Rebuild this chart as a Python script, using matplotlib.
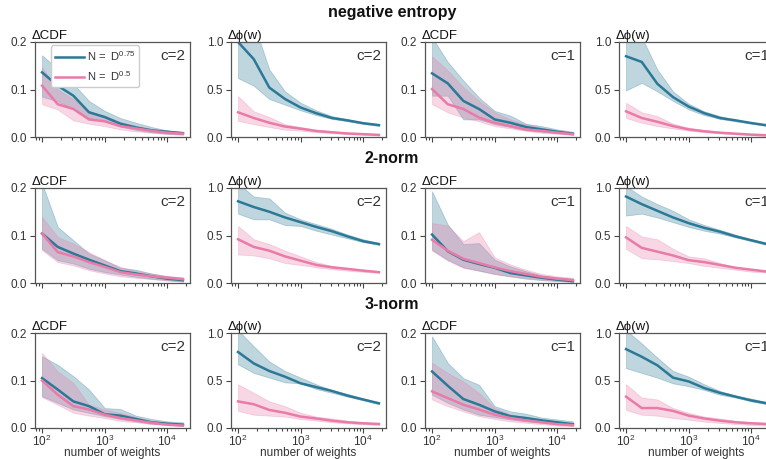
import matplotlib
matplotlib.use("Agg")
import matplotlib.pyplot as plt
import numpy as np

plt.rcParams['font.family'] = ['Liberation Sans', 'DejaVu Sans']
plt.rcParams['mathtext.fontset'] = 'custom'
plt.rcParams['mathtext.rm'] = 'Liberation Sans'
plt.rcParams['mathtext.it'] = 'Liberation Sans:italic'

# number of weights (quarter decades from 1e2)
n_weights = [100, 178, 316, 562, 1000, 1778, 3162, 5623, 10000, 17783]

row_titles = ['negative entropy', '2-norm', '3-norm']
col_labels = ['ΔCDF', 'Δϕ(w)', 'ΔCDF', 'Δϕ(w)']
col_c = ['c=2', 'c=2', 'c=1', 'c=1']
series_labels = ['N =  D$^{0.75}$', 'N =  D$^{0.5}$']

# each series: [mean, lower, upper]
# --- negative entropy
ne_cdf2_blue = [[0.136, 0.108, 0.087, 0.052, 0.042, 0.028, 0.020, 0.014, 0.011, 0.008],
                [0.085, 0.075, 0.060, 0.040, 0.033, 0.022, 0.015, 0.010, 0.007, 0.005],
                [0.172, 0.143, 0.112, 0.076, 0.055, 0.040, 0.030, 0.021, 0.014, 0.011]]
ne_cdf2_pink = [[0.108, 0.069, 0.059, 0.037, 0.033, 0.023, 0.018, 0.013, 0.009, 0.007],
                [0.069, 0.058, 0.035, 0.028, 0.023, 0.016, 0.012, 0.009, 0.006, 0.005],
                [0.147, 0.100, 0.080, 0.055, 0.045, 0.032, 0.024, 0.017, 0.012, 0.009]]
ne_phi2_blue = [[1.00, 0.82, 0.52, 0.40, 0.31, 0.25, 0.20, 0.175, 0.145, 0.125],
                [0.62, 0.54, 0.40, 0.34, 0.28, 0.23, 0.19, 0.165, 0.137, 0.116],
                [1.30, 1.20, 0.71, 0.48, 0.36, 0.28, 0.22, 0.185, 0.155, 0.135]]
ne_phi2_pink = [[0.26, 0.20, 0.15, 0.11, 0.088, 0.063, 0.05, 0.037, 0.03, 0.022],
                [0.17, 0.135, 0.105, 0.077, 0.067, 0.05, 0.04, 0.03, 0.022, 0.016],
                [0.43, 0.27, 0.21, 0.135, 0.105, 0.077, 0.06, 0.045, 0.035, 0.027]]
ne_cdf1_blue = [[0.134, 0.113, 0.076, 0.059, 0.037, 0.030, 0.021, 0.016, 0.011, 0.007],
                [0.087, 0.087, 0.037, 0.037, 0.027, 0.021, 0.014, 0.011, 0.008, 0.005],
                [0.210, 0.158, 0.119, 0.083, 0.055, 0.045, 0.028, 0.023, 0.016, 0.011]]
ne_cdf1_pink = [[0.101, 0.069, 0.059, 0.041, 0.030, 0.023, 0.016, 0.013, 0.009, 0.006],
                [0.069, 0.052, 0.041, 0.033, 0.023, 0.018, 0.013, 0.009, 0.007, 0.004],
                [0.170, 0.140, 0.105, 0.076, 0.052, 0.037, 0.027, 0.020, 0.013, 0.008]]
ne_phi1_blue = [[0.85, 0.79, 0.56, 0.42, 0.32, 0.25, 0.20, 0.175, 0.147, 0.123],
                [0.49, 0.57, 0.48, 0.38, 0.29, 0.23, 0.19, 0.165, 0.14, 0.115],
                [1.15, 1.05, 0.71, 0.48, 0.35, 0.27, 0.22, 0.18, 0.155, 0.13]]
ne_phi1_pink = [[0.27, 0.20, 0.16, 0.115, 0.08, 0.06, 0.045, 0.035, 0.025, 0.018],
                [0.20, 0.15, 0.115, 0.09, 0.067, 0.05, 0.038, 0.028, 0.018, 0.014],
                [0.36, 0.26, 0.22, 0.14, 0.098, 0.074, 0.056, 0.042, 0.032, 0.025]]
# --- 2-norm
n2_cdf2_blue = [[0.104, 0.076, 0.062, 0.049, 0.037, 0.025, 0.020, 0.014, 0.009, 0.006],
                [0.072, 0.048, 0.041, 0.030, 0.023, 0.018, 0.013, 0.009, 0.006, 0.003],
                [0.210, 0.118, 0.090, 0.062, 0.048, 0.032, 0.028, 0.020, 0.014, 0.011]]
n2_cdf2_pink = [[0.104, 0.065, 0.056, 0.044, 0.034, 0.023, 0.018, 0.014, 0.011, 0.008],
                [0.069, 0.044, 0.037, 0.027, 0.020, 0.014, 0.011, 0.008, 0.005, 0.003],
                [0.139, 0.097, 0.083, 0.065, 0.048, 0.034, 0.025, 0.020, 0.015, 0.012]]
n2_phi2_blue = [[0.86, 0.80, 0.75, 0.69, 0.64, 0.59, 0.545, 0.49, 0.44, 0.41],
                [0.73, 0.67, 0.67, 0.61, 0.60, 0.55, 0.51, 0.47, 0.43, 0.40],
                [1.05, 0.91, 0.89, 0.74, 0.67, 0.62, 0.57, 0.51, 0.46, 0.42]]
n2_phi2_pink = [[0.46, 0.38, 0.34, 0.28, 0.235, 0.19, 0.165, 0.148, 0.13, 0.114],
                [0.30, 0.29, 0.26, 0.21, 0.19, 0.165, 0.145, 0.13, 0.117, 0.107],
                [0.60, 0.46, 0.41, 0.34, 0.28, 0.22, 0.18, 0.16, 0.14, 0.124]]
n2_cdf1_blue = [[0.102, 0.067, 0.049, 0.040, 0.032, 0.021, 0.016, 0.011, 0.007, 0.004],
                [0.070, 0.049, 0.033, 0.026, 0.019, 0.014, 0.009, 0.006, 0.004, 0.002],
                [0.193, 0.123, 0.082, 0.084, 0.049, 0.035, 0.025, 0.016, 0.012, 0.009]]
n2_cdf1_pink = [[0.091, 0.068, 0.051, 0.042, 0.033, 0.025, 0.019, 0.013, 0.009, 0.006],
                [0.068, 0.047, 0.032, 0.026, 0.019, 0.014, 0.011, 0.007, 0.005, 0.003],
                [0.126, 0.121, 0.088, 0.107, 0.054, 0.039, 0.028, 0.019, 0.014, 0.011]]
n2_phi1_blue = [[0.91, 0.83, 0.76, 0.69, 0.63, 0.58, 0.54, 0.49, 0.45, 0.41],
                [0.71, 0.73, 0.69, 0.64, 0.59, 0.55, 0.52, 0.48, 0.44, 0.40],
                [1.02, 0.91, 0.83, 0.76, 0.67, 0.61, 0.56, 0.51, 0.46, 0.42]]
n2_phi1_pink = [[0.48, 0.37, 0.33, 0.29, 0.24, 0.22, 0.19, 0.16, 0.14, 0.12],
                [0.36, 0.26, 0.25, 0.23, 0.21, 0.18, 0.16, 0.14, 0.12, 0.11],
                [0.60, 0.49, 0.46, 0.36, 0.28, 0.26, 0.21, 0.17, 0.15, 0.13]]
# --- 3-norm
n3_cdf2_blue = [[0.105, 0.081, 0.056, 0.046, 0.029, 0.026, 0.019, 0.012, 0.009, 0.007],
                [0.067, 0.053, 0.039, 0.032, 0.025, 0.019, 0.014, 0.009, 0.007, 0.005],
                [0.151, 0.133, 0.109, 0.081, 0.042, 0.040, 0.026, 0.019, 0.014, 0.012]]
n3_cdf2_pink = [[0.100, 0.070, 0.046, 0.039, 0.028, 0.021, 0.016, 0.011, 0.007, 0.005],
                [0.065, 0.049, 0.032, 0.026, 0.021, 0.015, 0.012, 0.008, 0.006, 0.004],
                [0.158, 0.119, 0.095, 0.049, 0.039, 0.032, 0.023, 0.015, 0.012, 0.009]]
n3_phi2_blue = [[0.80, 0.68, 0.60, 0.54, 0.47, 0.43, 0.39, 0.34, 0.30, 0.26],
                [0.67, 0.58, 0.53, 0.48, 0.47, 0.41, 0.37, 0.33, 0.29, 0.25],
                [1.03, 0.86, 0.70, 0.60, 0.53, 0.46, 0.40, 0.36, 0.31, 0.27]]
n3_phi2_pink = [[0.28, 0.25, 0.19, 0.16, 0.12, 0.10, 0.077, 0.06, 0.049, 0.042],
                [0.18, 0.14, 0.13, 0.12, 0.095, 0.077, 0.06, 0.049, 0.039, 0.032],
                [0.46, 0.37, 0.28, 0.23, 0.16, 0.12, 0.10, 0.077, 0.063, 0.053]]
n3_cdf1_blue = [[0.119, 0.089, 0.061, 0.049, 0.035, 0.025, 0.021, 0.016, 0.012, 0.008],
                [0.070, 0.053, 0.039, 0.028, 0.023, 0.018, 0.014, 0.011, 0.008, 0.005],
                [0.193, 0.137, 0.105, 0.091, 0.046, 0.035, 0.030, 0.022, 0.018, 0.014]]
n3_cdf1_pink = [[0.077, 0.063, 0.049, 0.039, 0.028, 0.021, 0.016, 0.012, 0.008, 0.006],
                [0.060, 0.046, 0.035, 0.025, 0.019, 0.014, 0.011, 0.008, 0.005, 0.004],
                [0.137, 0.116, 0.098, 0.074, 0.042, 0.028, 0.023, 0.018, 0.013, 0.010]]
n3_phi1_blue = [[0.83, 0.75, 0.66, 0.53, 0.49, 0.42, 0.37, 0.33, 0.29, 0.26],
                [0.63, 0.58, 0.53, 0.47, 0.44, 0.40, 0.35, 0.32, 0.28, 0.25],
                [1.03, 0.89, 0.74, 0.60, 0.54, 0.46, 0.39, 0.34, 0.31, 0.27]]
n3_phi1_pink = [[0.33, 0.21, 0.21, 0.18, 0.13, 0.10, 0.077, 0.06, 0.049, 0.042],
                [0.19, 0.14, 0.13, 0.105, 0.088, 0.067, 0.053, 0.042, 0.032, 0.025],
                [0.46, 0.32, 0.30, 0.21, 0.16, 0.12, 0.10, 0.077, 0.063, 0.053]]

panels = [
    [(ne_cdf2_blue, ne_cdf2_pink), (ne_phi2_blue, ne_phi2_pink),
     (ne_cdf1_blue, ne_cdf1_pink), (ne_phi1_blue, ne_phi1_pink)],
    [(n2_cdf2_blue, n2_cdf2_pink), (n2_phi2_blue, n2_phi2_pink),
     (n2_cdf1_blue, n2_cdf1_pink), (n2_phi1_blue, n2_phi1_pink)],
    [(n3_cdf2_blue, n3_cdf2_pink), (n3_phi2_blue, n3_phi2_pink),
     (n3_cdf1_blue, n3_cdf1_pink), (n3_phi1_blue, n3_phi1_pink)],
]

blue = '#2b7897'
pink = '#e97ba8'
txt = '#333333'

W, H = 766, 459
fig = plt.figure(figsize=(W / 100, H / 100), dpi=100)

col_left = [35, 231, 425, 619]   # px
row_top = [42, 188, 333]
ax_w, ax_h = 155, 95
title_base = [17, 163, 309]

for r in range(3):
    fig.text(392 / W, 1 - title_base[r] / H, row_titles[r], ha='center', va='baseline',
             fontsize=11.5, fontweight='bold', color='#111111')
    for c in range(4):
        ax = fig.add_axes([col_left[c] / W, 1 - (row_top[r] + ax_h) / H, ax_w / W, ax_h / H])
        b, p = panels[r][c]
        x = np.array(n_weights)
        ax.fill_between(x, b[1], b[2], color=blue, alpha=0.3, lw=0.6)
        ax.fill_between(x, p[1], p[2], color=pink, alpha=0.3, lw=0.6)
        ax.plot(x, b[0], color=blue, lw=1.8, label=series_labels[0])
        ax.plot(x, p[0], color=pink, lw=1.8, label=series_labels[1])
        ax.set_xscale('log')
        ax.margins(x=0.05)
        if c % 2 == 0:
            ax.set_ylim(0, 0.2)
            ax.set_yticks([0, 0.1, 0.2])
        else:
            ax.set_ylim(0, 1.0)
            ax.set_yticks([0, 0.5, 1.0])
        ax.yaxis.set_major_formatter(plt.FormatStrFormatter('%.1f'))
        for s in ax.spines.values():
            s.set_color('#555555')
            s.set_linewidth(0.9)
        ax.tick_params(which='both', direction='out', colors='#444444', labelcolor=txt,
                       labelsize=8.5, width=0.8)
        ax.tick_params(which='major', length=3.5, pad=2)
        ax.tick_params(which='minor', length=2)
        ax.tick_params(axis='x', which='major', pad=0.5)
        if r < 2:
            ax.tick_params(axis='x', which='both', labelbottom=False)
        else:
            ax.set_xlabel('number of weights', fontsize=8.5, color=txt, labelpad=-1)
        ax.text(-0.02, 1.0, col_labels[c], transform=ax.transAxes, ha='left', va='bottom',
                fontsize=9.5, color='#111111')
        ax.text(0.97, 0.93, col_c[c], transform=ax.transAxes, ha='right', va='top',
                fontsize=11, color=txt)
        if r == 0 and c == 0:
            ax.legend(loc='upper left', bbox_to_anchor=(0.08, 1.0), fontsize=8,
                      handlelength=2.6, borderaxespad=0.3, borderpad=0.35,
                      labelspacing=0.55, handletextpad=0.3, framealpha=1,
                      edgecolor='#cccccc', labelcolor=txt)

fig.savefig('out.png', dpi=100)
